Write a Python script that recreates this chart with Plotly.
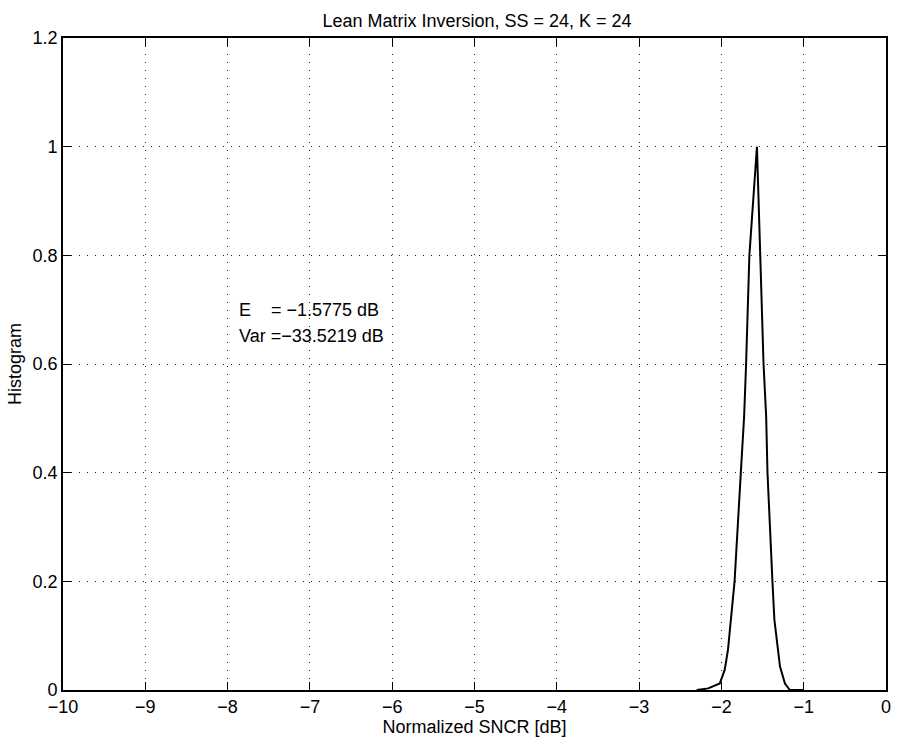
import plotly.graph_objects as go

# Normalized SNCR histogram (dB) and its normalized count
sncr_db = [-2.30, -2.16, -2.02, -1.96, -1.92, -1.84, -1.764, -1.724, -1.70, -1.66,
           -1.568,
           -1.524, -1.488, -1.456, -1.44, -1.38, -1.356, -1.288, -1.228, -1.168, -1.00]
hist_val = [0.0, 0.003, 0.012, 0.037, 0.074, 0.20, 0.40, 0.503, 0.60, 0.80,
            1.0,
            0.80, 0.60, 0.503, 0.40, 0.20, 0.129, 0.043, 0.012, 0.0, 0.0]

x_ticks = list(range(-10, 1))
y_ticks = [0, 0.2, 0.4, 0.6, 0.8, 1.0, 1.2]
y_tick_text = ["0", "0.2", "0.4", "0.6", "0.8", "1", "1.2"]

title_text = "Lean Matrix Inversion, SS = 24, K = 24"
stat_lines = ["E\u00a0\u00a0\u00a0\u00a0= \u22121.5775 dB", "Var =\u221233.5219 dB"]

FONT = "Liberation Sans, Arial, Helvetica, sans-serif"

fig = go.Figure()
fig.add_trace(go.Scatter(x=sncr_db, y=hist_val, mode="lines",
                         line=dict(color="black", width=2), showlegend=False))

axis_common = dict(
    showline=True, linecolor="black", linewidth=1.6, mirror="ticks",
    ticks="inside", ticklen=8, tickwidth=1.2, tickcolor="black",
    showgrid=True, gridcolor="#222222", gridwidth=1, griddash="1px,7px",
    zeroline=False, tickfont=dict(family=FONT, size=18, color="black"),
)

fig.update_xaxes(range=[-10, 0], tickvals=x_ticks, title=dict(
    text="Normalized SNCR [dB]", font=dict(family=FONT, size=18, color="black"),
    standoff=4), **axis_common)
fig.update_yaxes(range=[0, 1.2], tickvals=y_ticks, ticktext=y_tick_text, title=dict(
    text="Histogram", font=dict(family=FONT, size=18, color="black"),
    standoff=6), **axis_common)

fig.add_annotation(x=-7.88, y=0.699, text=stat_lines[0], showarrow=False,
                   xanchor="left", yanchor="middle",
                   font=dict(family=FONT, size=18, color="black"))
fig.add_annotation(x=-7.88, y=0.652, text=stat_lines[1], showarrow=False,
                   xanchor="left", yanchor="middle",
                   font=dict(family=FONT, size=18, color="black"))

fig.update_layout(
    width=899, height=742,
    margin=dict(l=63, r=8, t=38, b=52),
    paper_bgcolor="white", plot_bgcolor="white",
    title=dict(text=title_text, x=0.5306, xanchor="center", y=0.972, yanchor="middle",
               font=dict(family=FONT, size=18, color="black")),
)

fig.write_html("out.html")
